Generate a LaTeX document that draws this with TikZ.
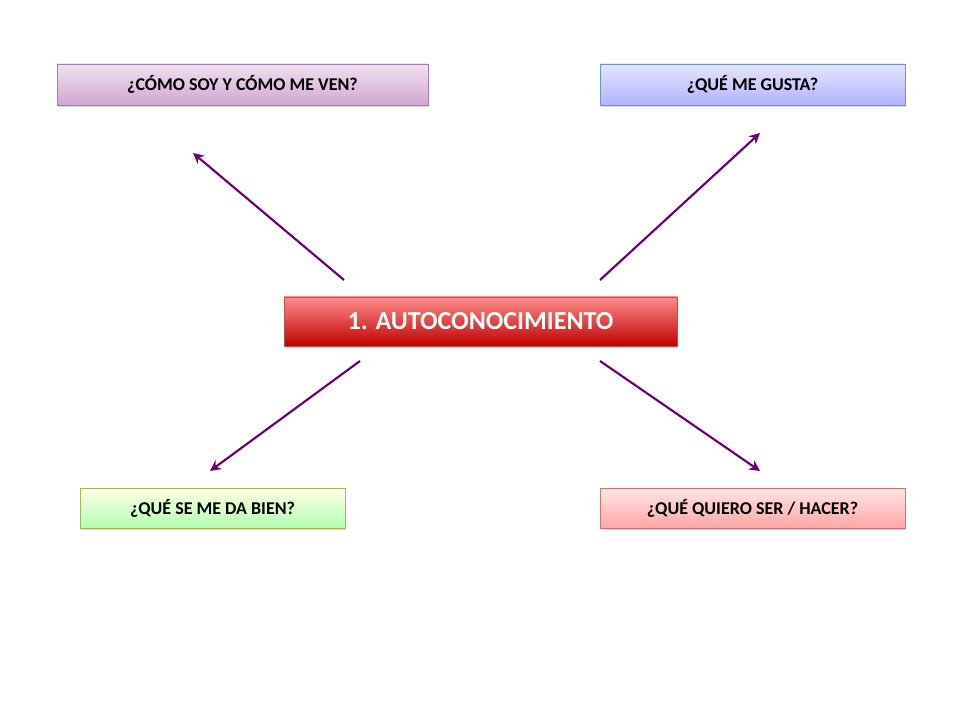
\documentclass[tikz,border=0pt]{standalone}
\usepackage{fontspec}
\setmainfont{Carlito}
\usetikzlibrary{shadows,arrows.meta}
\definecolor{arr}{HTML}{6A006E}
\definecolor{vb}{HTML}{9A7FB8}\definecolor{bb}{HTML}{6F92C6}\definecolor{cb}{HTML}{C0504D}
\definecolor{gb}{HTML}{9BBB59}\definecolor{rb}{HTML}{D07070}
\tikzset{
 qbox/.style={draw=#1, drop shadow={opacity=0.3,shadow xshift=1pt,shadow yshift=-1.5pt}, font=\bfseries\fontsize{13.5}{15}\selectfont, text=black, inner sep=0pt, anchor=center},
 conn/.style={draw=arr, line width=1.6pt, -{Stealth[length=8pt,width=8pt]}}
}
\begin{document}
\begin{tikzpicture}[x=0.75pt,y=-0.75pt]
\useasboundingbox (0,0) rectangle (960,720);
\node[qbox=vb, top color=violet!12, bottom color=violet!35, minimum width=278.25pt, minimum height=30.75pt] (tl) at (242.5,84.5) {¿CÓMO SOY Y CÓMO ME VEN?};
\node[qbox=bb, top color=blue!10, bottom color=blue!30, minimum width=228.75pt, minimum height=30.75pt] (tr) at (752.5,84.5) {¿QUÉ ME GUSTA?};
\node[qbox=cb, top color=red!45, bottom color=red!75!black, text=white, font=\bfseries\fontsize{19.5}{22}\selectfont, minimum width=294.75pt, minimum height=36.75pt] (c) at (480.5,321.5) {1. AUTOCONOCIMIENTO};
\node[qbox=gb, top color=yellow!10, bottom color=green!30, minimum width=198.75pt, minimum height=30pt] (bl) at (212.5,508) {¿QUÉ SE ME DA BIEN?};
\node[qbox=rb, top color=red!10, bottom color=red!35, minimum width=228.75pt, minimum height=30pt] (br) at (752.5,508) {¿QUÉ QUIERO SER / HACER?};
\coordinate (a1s) at (344,280); \coordinate (a1e) at (193,153);
\coordinate (a2s) at (600,280); \coordinate (a2e) at (760,133);
\coordinate (a3s) at (360,361); \coordinate (a3e) at (210,471);
\coordinate (a4s) at (600,361); \coordinate (a4e) at (760,471);
\draw[conn] (a1s) -- (a1e);
\draw[conn] (a2s) -- (a2e);
\draw[conn] (a3s) -- (a3e);
\draw[conn] (a4s) -- (a4e);
\end{tikzpicture}
\end{document}
